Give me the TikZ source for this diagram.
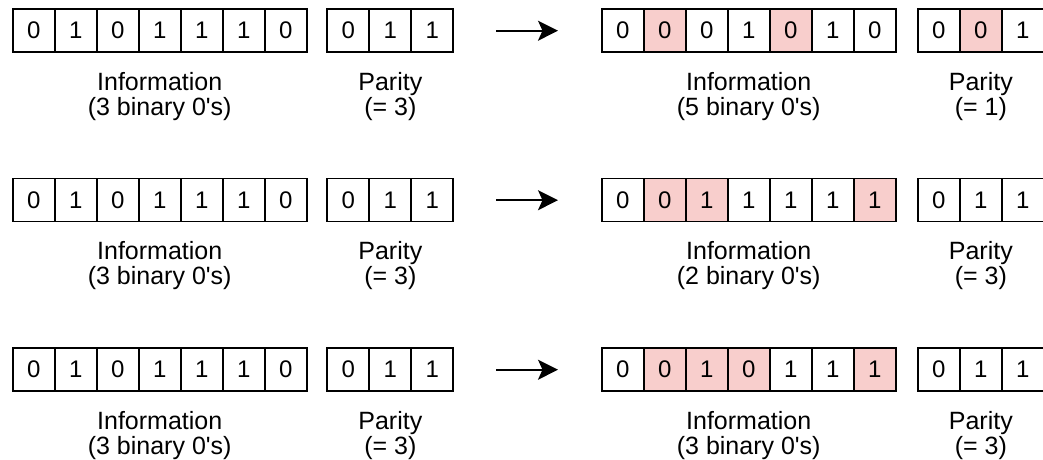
\documentclass[tikz,border=0pt]{standalone}
\usepackage{fontspec}
\setmainfont{Liberation Sans}
\usetikzlibrary{arrows.meta}
\definecolor{flip}{HTML}{F8CECC}
\tikzset{
  x=1pt, y=-1pt,
  cell/.style={draw=black, line width=1.7pt, minimum width=42pt, minimum height=43pt,
               inner sep=0pt, outer sep=0pt, font=\fontsize{24}{28}\selectfont},
  ok/.style={fill=white},
  bad/.style={fill=flip},
  lbl/.style={anchor=base, inner sep=0pt, font=\fontsize{25}{28}\selectfont},
  flow/.style={line width=1.8pt, -{Stealth[length=20pt, width=20pt, inset=4.5pt]}}
}
% a row of bit cells: name prefix, left x, top y, list of bit/style
\newcommand\bitrow[4]{%
  \foreach \b/\s [count=\i] in {#4} {
    \node[cell,\s] (#1\i) at ({#2+(\i-0.5)*42}, {#3+21.5}) {\b};
  }%
}
% two-line label under a block: name prefix, centre x, top y of the row, line 1, line 2
\newcommand\blocklabel[5]{%
  \node[lbl] (#1a) at (#2, {#3+81}) {#4};
  \node[lbl] (#1b) at (#2, {#3+106}) {#5};
}
\newcommand\zeros[1]{(#1 binary 0\textquotesingle s)}
\begin{document}
\begin{tikzpicture}
\useasboundingbox (0,0) rectangle (1043,459);

% ---- row 1 ----
\bitrow{ai}{12.7}{9}{0/ok,1/ok,0/ok,1/ok,1/ok,1/ok,0/ok}
\bitrow{ap}{327.3}{9}{0/ok,1/ok,1/ok}
\blocklabel{aic}{159.7}{9}{Information}{\zeros{3}}
\blocklabel{apc}{390.3}{9}{Parity}{(= 3)}
\bitrow{bi}{601.7}{9}{0/ok,0/bad,0/ok,1/ok,0/bad,1/ok,0/ok}
\bitrow{bp}{917.8}{9}{0/ok,0/bad,1/ok}
\blocklabel{bic}{748.7}{9}{Information}{\zeros{5}}
\blocklabel{bpc}{980.8}{9}{Parity}{(= 1)}
\coordinate (s1) at (496,30.7);
\coordinate (e1) at (558,30.7);
\draw[flow] (s1) -- (e1);

% ---- row 2 ----
\bitrow{ci}{12.7}{178.5}{0/ok,1/ok,0/ok,1/ok,1/ok,1/ok,0/ok}
\bitrow{cp}{327.3}{178.5}{0/ok,1/ok,1/ok}
\blocklabel{cic}{159.7}{178.5}{Information}{\zeros{3}}
\blocklabel{cpc}{390.3}{178.5}{Parity}{(= 3)}
\bitrow{di}{601.7}{178.5}{0/ok,0/bad,1/bad,1/ok,1/ok,1/ok,1/bad}
\bitrow{dp}{917.8}{178.5}{0/ok,1/ok,1/ok}
\blocklabel{dic}{748.7}{178.5}{Information}{\zeros{2}}
\blocklabel{dpc}{980.8}{178.5}{Parity}{(= 3)}
\coordinate (s2) at (496,200.2);
\coordinate (e2) at (558,200.2);
\draw[flow] (s2) -- (e2);

% ---- row 3 ----
\bitrow{ei}{12.7}{348}{0/ok,1/ok,0/ok,1/ok,1/ok,1/ok,0/ok}
\bitrow{ep}{327.3}{348}{0/ok,1/ok,1/ok}
\blocklabel{eic}{159.7}{348}{Information}{\zeros{3}}
\blocklabel{epc}{390.3}{348}{Parity}{(= 3)}
\bitrow{fi}{601.7}{348}{0/ok,0/bad,1/bad,0/bad,1/ok,1/ok,1/bad}
\bitrow{fp}{917.8}{348}{0/ok,1/ok,1/ok}
\blocklabel{fic}{748.7}{348}{Information}{\zeros{3}}
\blocklabel{fpc}{980.8}{348}{Parity}{(= 3)}
\coordinate (s3) at (496,369.7);
\coordinate (e3) at (558,369.7);
\draw[flow] (s3) -- (e3);
\end{tikzpicture}
\end{document}
